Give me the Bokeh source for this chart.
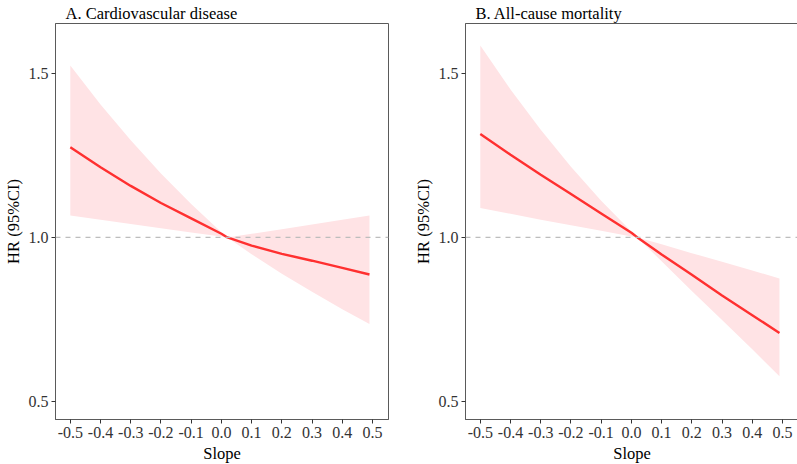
from bokeh.plotting import figure
from bokeh.models import Range1d, Span, FixedTicker
from bokeh.layouts import row
from bokeh.embed import file_html
from bokeh.resources import INLINE

# ---- data ----
slope = [-0.5, -0.4, -0.3, -0.2, -0.1, 0.0, 0.02, 0.1, 0.2, 0.3, 0.4, 0.49]

cvd_hr    = [1.275, 1.214, 1.157, 1.105, 1.058, 1.011, 1.000, 0.975, 0.950, 0.929, 0.907, 0.887]
cvd_upper = [1.524, 1.405, 1.296, 1.195, 1.102, 1.016, 1.000, 1.011, 1.025, 1.039, 1.054, 1.067]
cvd_lower = [1.067, 1.054, 1.041, 1.028, 1.015, 1.0025, 1.000, 0.949, 0.889, 0.834, 0.781, 0.736]

acm_hr    = [1.315, 1.252, 1.191, 1.132, 1.073, 1.014, 1.000, 0.948, 0.886, 0.823, 0.763, 0.709]
acm_upper = [1.585, 1.451, 1.328, 1.215, 1.112, 1.018, 1.000, 0.979, 0.952, 0.926, 0.899, 0.875]
acm_lower = [1.090, 1.072, 1.054, 1.037, 1.020, 1.003, 1.000, 0.927, 0.837, 0.748, 0.659, 0.577]

x_ticks = [-0.5, -0.4, -0.3, -0.2, -0.1, 0.0, 0.1, 0.2, 0.3, 0.4, 0.5]
y_ticks = [0.5, 1.0, 1.5]
titles = ["A. Cardiovascular disease", "B. All-cause mortality"]

FONT = "'Liberation Serif', 'Times New Roman', serif"


def panel(title, hr, up, lo, border_left, border_right):
    p = figure(frame_width=333, frame_height=396,
               x_range=Range1d(-0.549, 0.553), y_range=Range1d(0.445, 1.652),
               output_backend="svg", toolbar_location=None,
               min_border_left=border_left, min_border_right=border_right,
               min_border_top=0, min_border_bottom=0)
    p.title.text = title
    p.title.text_font = FONT
    p.title.text_font_size = "16.5px"
    p.title.text_font_style = "normal"
    p.title.text_color = "black"
    p.title.offset = 10
    p.title.standoff = 2

    p.varea(x=slope, y1=lo, y2=up, fill_color="#FFE3E5", fill_alpha=1.0)
    p.add_layout(Span(location=1.0, dimension="width", line_color="#BDBDBD",
                      line_dash="5 5", line_width=1.2))
    p.line(slope, hr, line_color="#FF3030", line_width=2.4)

    p.xgrid.visible = False
    p.ygrid.visible = False
    p.outline_line_color = "#5A5A5A"
    p.outline_line_width = 1
    p.outline_line_alpha = 1.0

    p.xaxis.ticker = FixedTicker(ticks=x_ticks)
    p.yaxis.ticker = FixedTicker(ticks=y_ticks)
    p.xaxis.major_label_overrides = {t: f"{t:.1f}" for t in x_ticks}
    p.yaxis.major_label_overrides = {t: f"{t:.1f}" for t in y_ticks}
    p.xaxis.axis_label = "Slope"
    p.yaxis.axis_label = "HR (95%CI)"
    for ax in (p.xaxis[0], p.yaxis[0]):
        ax.axis_line_color = "#5A5A5A"
        ax.major_tick_line_color = "#333333"
        ax.major_tick_out = 4
        ax.major_tick_in = 0
        ax.minor_tick_line_color = None
        ax.major_label_text_font = FONT
        ax.major_label_text_font_size = "16px"
        ax.major_label_text_color = "#333333"
        ax.axis_label_text_font = FONT
        ax.axis_label_text_font_size = "16.5px"
        ax.axis_label_text_font_style = "normal"
        ax.axis_label_text_color = "black"
        ax.major_label_standoff = 3
        ax.axis_label_standoff = 3
    return p


p1 = panel(titles[0], cvd_hr, cvd_upper, cvd_lower, 40, 22)
p2 = panel(titles[1], acm_hr, acm_upper, acm_lower, 40, 1)
layout = row(p1, p2, spacing=0)

open("out.html", "w").write(file_html(layout, INLINE))
